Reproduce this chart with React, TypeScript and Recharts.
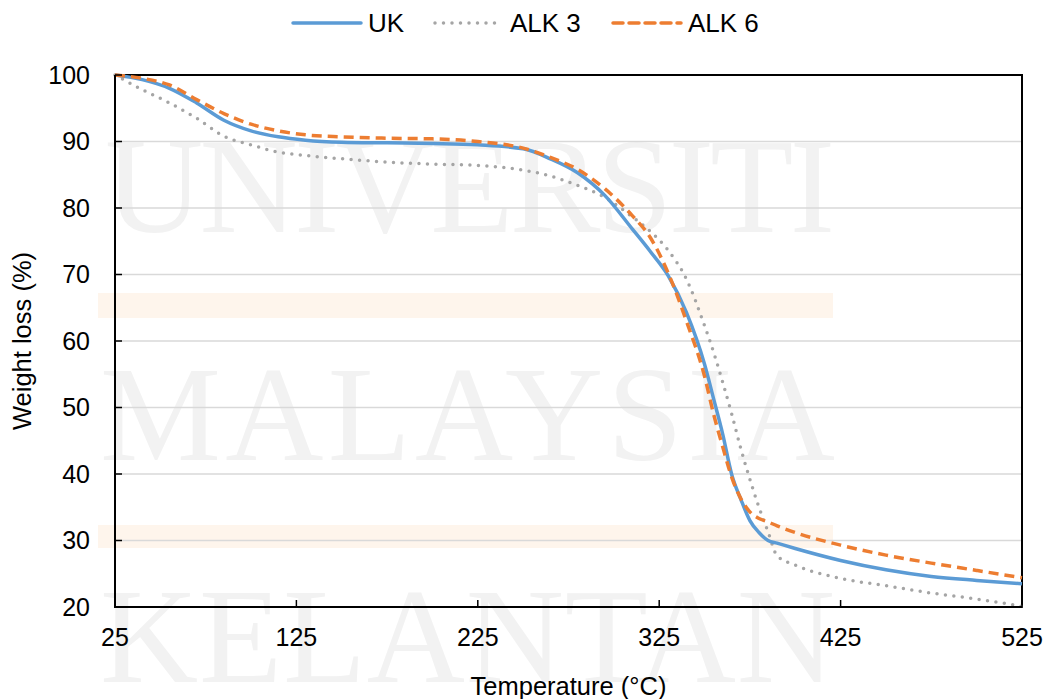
import { LineChart, Line, XAxis, YAxis, CartesianGrid, ReferenceArea } from "recharts"

const temps = [25, 40, 55, 70, 85, 100, 115, 130, 150, 175, 200, 225, 250, 265, 280, 295, 310, 320, 330, 340, 350, 355, 360, 365, 370, 375, 380, 385, 390, 400, 425, 450, 475, 500, 525]
const uk = [100, 99.3, 98.0, 95.8, 93.2, 91.6, 90.7, 90.2, 89.9, 89.8, 89.7, 89.5, 88.9, 87.4, 85.3, 81.9, 76.9, 73.5, 69.8, 64.3, 56.5, 51.3, 46.0, 39.9, 36.2, 33.0, 31.2, 30.0, 29.6, 28.8, 27.0, 25.6, 24.6, 24.0, 23.5]
const alk3 = [100, 97.8, 95.8, 93.5, 90.8, 89.5, 88.4, 87.9, 87.4, 86.9, 86.6, 86.4, 85.7, 84.8, 83.4, 81.6, 78.7, 76.5, 73.6, 69.3, 62.3, 58.3, 53.8, 49.0, 43.8, 39.2, 35.0, 31.3, 27.7, 26.3, 24.3, 23.2, 22.1, 21.2, 20.1]
const alk6 = [100, 99.5, 98.5, 96.3, 94.2, 92.6, 91.6, 91.0, 90.7, 90.5, 90.4, 90.0, 89.0, 87.6, 85.8, 82.9, 78.9, 75.6, 70.2, 63.0, 54.7, 49.0, 44.1, 39.5, 36.3, 34.3, 33.3, 32.8, 32.2, 31.2, 29.3, 27.8, 26.6, 25.5, 24.4]
const xTicks = [25, 125, 225, 325, 425, 525]
const yTicks = [20, 30, 40, 50, 60, 70, 80, 90, 100]

const data = temps.map((t, i) => ({ t, uk: uk[i], alk3: alk3[i], alk6: alk6[i] }))

const font = "Arial, 'Liberation Sans', sans-serif"
const tickStyle = { fontSize: 25, fill: "#000", fontFamily: font }

function Watermark() {
  return (
    <svg width={1048} height={699} style={{ position: "absolute", left: 0, top: 0 }}>
      <rect x={98} y={293} width={735} height={25} fill="#fef5ec" />
      <rect x={98} y={525} width={735} height={23} fill="#fef5ec" />
      <g fill="#f2f2f2" fontFamily="'Liberation Serif', 'DejaVu Serif', serif" fontSize={136}>
        <text x={105} y={232} textLength={730} lengthAdjust="spacing">UNIVERSITI</text>
        <text x={100} y={460} textLength={735} lengthAdjust="spacing">MALAYSIA</text>
        <text x={100} y={682} textLength={735} lengthAdjust="spacing">KELANTAN</text>
      </g>
    </svg>
  )
}

function LegendBar() {
  const items = [
    { name: "UK", color: "#5b9bd5", dash: undefined, x: 293 },
    { name: "ALK 3", color: "#a5a5a5", dash: "0 8.5", x: 435 },
    { name: "ALK 6", color: "#ed7d31", dash: "10 6", x: 613 },
  ]
  return (
    <svg width={1048} height={50} style={{ position: "absolute", left: 0, top: 0 }}>
      {items.map((it) => (
        <g key={it.name}>
          <line x1={it.x} x2={it.x + 68} y1={23} y2={23} stroke={it.color} strokeWidth={3.5} strokeDasharray={it.dash} strokeLinecap="round" />
          <text x={it.x + 75} y={32} fontSize={26} fontFamily={font} fill="#000">{it.name}</text>
        </g>
      ))}
    </svg>
  )
}

export default function App() {
  return (
    <div style={{ position: "absolute", left: 0, top: 0, width: 1048, height: 699, background: "#fff" }}>
      <Watermark />
      <div style={{ position: "absolute", left: 0, top: 0 }}>
        <LineChart width={1048} height={699} data={data} margin={{ top: 75, right: 26, bottom: 32, left: 0 }}>
          <CartesianGrid vertical={false} stroke="#d9d9d9" strokeWidth={1.3} />
          <XAxis
            dataKey="t"
            type="number"
            domain={[25, 525]}
            ticks={xTicks}
            tick={tickStyle}
            tickSize={-7}
            tickMargin={28}
            axisLine={{ stroke: "#000", strokeWidth: 2 }}
            tickLine={{ stroke: "#000", strokeWidth: 1.5 }}
            height={60}
            label={{ value: "Temperature (°C)", position: "insideBottom", offset: -28, fontSize: 25.5, fill: "#000", fontFamily: font }}
          />
          <YAxis
            type="number"
            domain={[20, 100]}
            ticks={yTicks}
            tick={tickStyle}
            tickSize={-7}
            tickMargin={32}
            width={115}
            axisLine={{ stroke: "#000", strokeWidth: 2 }}
            tickLine={{ stroke: "#000", strokeWidth: 1.5 }}
            label={{ value: "Weight loss (%)", angle: -90, position: "insideLeft", offset: 22, fontSize: 25.5, fill: "#000", fontFamily: font, style: { textAnchor: "middle" } }}
          />
          <ReferenceArea x1={25} x2={525} y1={20} y2={100} fill="none" stroke="#000" strokeWidth={2} />
          <Line type="monotone" dataKey="alk3" stroke="#a5a5a5" strokeWidth={3.5} strokeDasharray="0 8.5" strokeLinecap="round" dot={false} isAnimationActive={false} />
          <Line type="monotone" dataKey="uk" stroke="#5b9bd5" strokeWidth={3.5} dot={false} isAnimationActive={false} />
          <Line type="monotone" dataKey="alk6" stroke="#ed7d31" strokeWidth={3.5} strokeDasharray="10 6" dot={false} isAnimationActive={false} />
        </LineChart>
      </div>
      <LegendBar />
    </div>
  )
}
